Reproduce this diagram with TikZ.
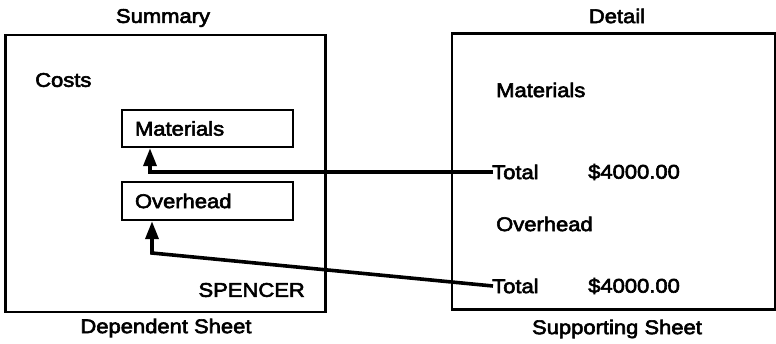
\documentclass[tikz,border=0pt]{standalone}
\usepackage{fontspec}
\setmainfont{Liberation Sans}[FakeStretch=1.11,FakeBold=3]
\usetikzlibrary{arrows.meta,calc}
\begin{document}
\begin{tikzpicture}[x=1pt,y=-1pt,
  txt/.style={font=\fontsize{19.8}{22}\selectfont, inner sep=0pt},
  sheet/.style={draw, line width=2.4pt, inner sep=0pt},
  cell/.style={draw, line width=2.4pt, inner ysep=0pt, inner xsep=13pt, text width=145pt, align=left, font=\fontsize{19.8}{22}\selectfont},
  link/.style={line width=3.6pt, -{Triangle[length=18pt,width=13pt]}, line join=miter}]
\useasboundingbox (0,0) rectangle (776,343);
% sheets
\node[sheet, minimum width=320pt, minimum height=277pt] (dep) at (165.5,173.5) {};
\node[sheet, minimum width=323pt, minimum height=276pt] (sup) at (613.5,171.5) {};
% titles
\node[txt] (summary) at (163,18) {Summary};
\node[txt] (detail) at (617,16) {Detail};
\node[txt] (deplab) at (166,328) {Dependent Sheet};
\node[txt] (suplab) at (617,329) {Supporting Sheet};
% left contents
\node[txt, anchor=west] (costs) at (35,80) {Costs};
\node[cell, minimum height=37pt] (mat) at (207.5,128.5) {Materials};
\node[cell, minimum height=38pt] (ovh) at (207.5,201) {Overhead};
\node[txt, anchor=east] (spencer) at (305,290) {SPENCER};
% right contents
\node[txt, anchor=west] (rmat) at (496,90) {Materials};
\node[txt, anchor=west] (tot1) at (492,172) {Total};
\node[txt, anchor=west] (amt1) at (588,172) {\$4000.00};
\node[txt, anchor=west] (rovh) at (496,224) {Overhead};
\node[txt, anchor=west] (tot2) at (492,286) {Total};
\node[txt, anchor=west] (amt2) at (588,286) {\$4000.00};
% connectors
\coordinate (c1) at (150,172);
\coordinate (c2) at (152,253);
\draw[link] ($(tot1.west)+(1,0)$) -- (c1) -- (c1 |- mat.south);
\draw[link] ($(tot2.west)+(1,0)$) -- (c2) -- (c2 |- ovh.south);
\end{tikzpicture}
\end{document}
